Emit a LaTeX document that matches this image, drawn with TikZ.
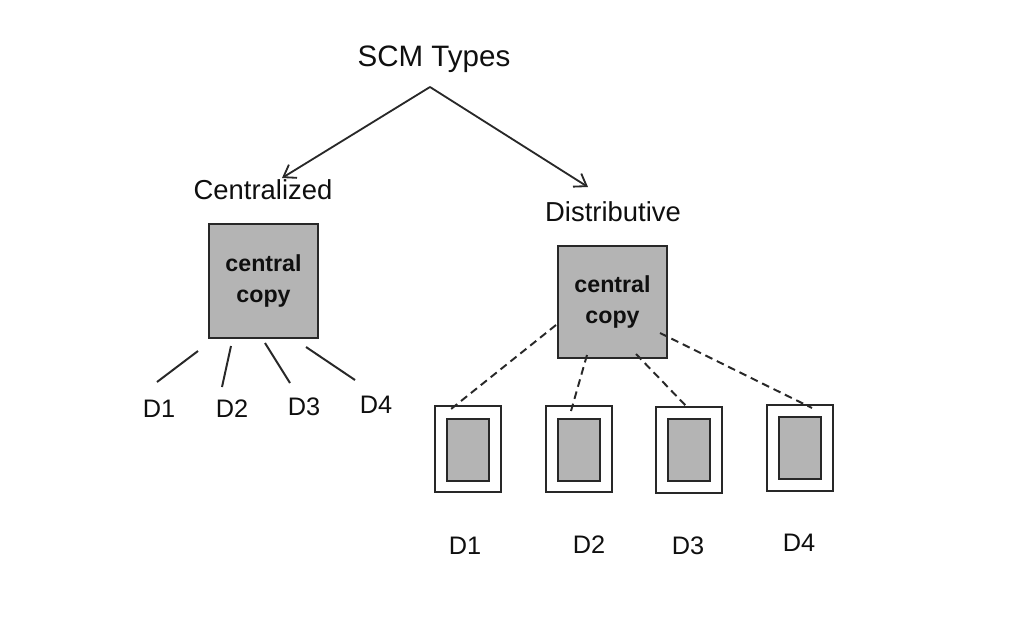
\documentclass[tikz,border=0pt]{standalone}
\usepackage{fontspec}
\setmainfont{Liberation Sans}
\usepackage{xcolor}
\usepackage{tikz}
\usetikzlibrary{arrows.meta, positioning, calc}
\definecolor{SCMGray}{RGB}{180, 180, 180}
\definecolor{SCMLine}{RGB}{40, 40, 40}
\definecolor{SCMText}{RGB}{15, 15, 15}

\tikzset{
  headtext/.style={text=SCMText, inner sep=0pt, font=\fontsize{19.5}{22}\selectfont},
  dlabel/.style={text=SCMText, inner sep=0pt, font=\fontsize{18}{20}\selectfont},
  copybox/.style={draw=SCMLine, fill=SCMGray, line width=1.3pt, align=center,
    inner sep=0pt, text=SCMText, font=\fontsize{16.5}{22}\selectfont\bfseries},
  outerbox/.style={draw=SCMLine, fill=white, line width=1.3pt, inner sep=0pt,
    minimum width=1.65cm, minimum height=2.15cm},
  innerbox/.style={draw=SCMLine, fill=SCMGray, line width=1.5pt, inner sep=0pt,
    minimum width=1.05cm, minimum height=1.55cm},
  branch/.style={SCMLine, line width=1.3pt, -{Straight Barb[length=8pt, width=11pt]}},
  link/.style={SCMLine, line width=1.4pt},
  dlink/.style={SCMLine, line width=1.4pt, dash pattern=on 5.5pt off 3.5pt}
}

\begin{document}
\begin{tikzpicture}[x=0.025cm, y=-0.025cm]
    \path[use as bounding box] (0,0) rectangle (1012,631);

    % top of the tree
    \node[headtext, font=\fontsize{21}{24}\selectfont] (scm) at (434,59) {SCM Types};
    \coordinate (fork) at (430,87);
    \node[headtext] (cent) at (263,190) {Centralized};
    \node[headtext] (dist) at (613,212) {Distributive};
    \coordinate (centtip) at (282,178);
    \coordinate (disttip) at (588,187);
    \draw[branch] (fork) -- (centtip);
    \draw[branch] (fork) -- (disttip);

    % centralized side
    \node[copybox, minimum width=2.725cm, minimum height=2.85cm] (ccopy)
      at (263.5,281) {central\\copy};

    \node[dlabel] (cd1) at (159,409) {D1};
    \node[dlabel] (cd2) at (232,409) {D2};
    \node[dlabel] (cd3) at (304,407) {D3};
    \node[dlabel] (cd4) at (376,405) {D4};

    \coordinate (ca1) at (198,351); \coordinate (cb1) at (157,382);
    \coordinate (ca2) at (231,346); \coordinate (cb2) at (222,387);
    \coordinate (ca3) at (265,343); \coordinate (cb3) at (290,383);
    \coordinate (ca4) at (306,347); \coordinate (cb4) at (355,380);
    \foreach \i in {1,...,4}
      \draw[link] (ca\i) -- (cb\i);

    % distributive side
    \node[copybox, minimum width=2.725cm, minimum height=2.8cm] (dcopy)
      at (612.5,302) {central\\copy};

    \node[outerbox] (site1) at (468,449) {};
    \node[innerbox] (repo1) at (468,450) {};
    \node[outerbox] (site2) at (579,449) {};
    \node[innerbox] (repo2) at (579,450) {};
    \node[outerbox] (site3) at (689,450) {};
    \node[innerbox] (repo3) at (689,450) {};
    \node[outerbox] (site4) at (800,448) {};
    \node[innerbox] (repo4) at (800,448) {};

    \coordinate (da1) at (556,325); \coordinate (db1) at (451,409);
    \coordinate (da2) at (587,355); \coordinate (db2) at (571,411);
    \coordinate (da3) at (636,354); \coordinate (db3) at (688,408);
    \coordinate (da4) at (660,333); \coordinate (db4) at (812,408);
    \foreach \i in {1,...,4}
      \draw[dlink] (da\i) -- (db\i);

    \node[dlabel] (dd1) at (465,546) {D1};
    \node[dlabel] (dd2) at (589,545) {D2};
    \node[dlabel] (dd3) at (688,546) {D3};
    \node[dlabel] (dd4) at (799,543) {D4};
  \end{tikzpicture}
\end{document}
